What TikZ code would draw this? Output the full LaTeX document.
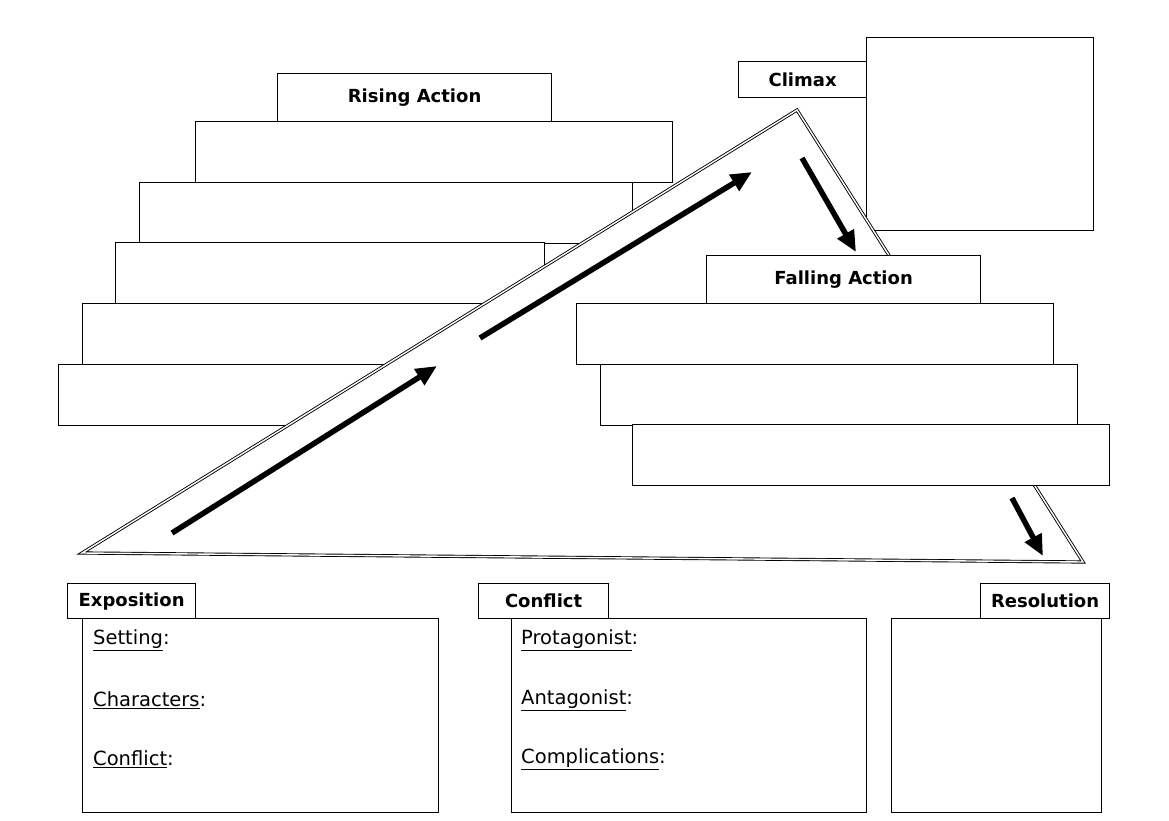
\documentclass[tikz,border=0pt]{standalone}
\usepackage{fontspec}
\setmainfont{DejaVu Sans}
\usetikzlibrary{positioning,arrows.meta}

\tikzset{
  panel/.style={draw, fill=white, line width=1.2pt, inner sep=0pt, anchor=north west},
  tab/.style={panel, font=\bfseries\fontsize{18}{21}\selectfont},
  prompt/.style={anchor=west, inner sep=0pt, font=\fontsize{19.5}{23}\selectfont},
  bigarrow/.style={line width=5.5pt, -{Triangle[length=21pt,width=18pt]}},
  plotline/.style={draw, fill=white, double, double distance=1.4pt, line width=0.9pt, line join=miter}
}

\begin{document}
\begin{tikzpicture}[x=1pt, y=-1pt]
\useasboundingbox (0,0) rectangle (1169,821);

% Rising action steps
\node[tab, minimum width=274pt, minimum height=48pt] (risetitle) at (277,73) {Rising Action};
\foreach \x/\y/\w [count=\i] in {195/121/477, 139/182/493, 115/242/429, 82/303/440, 58/364/362} {
  \node[panel, minimum width=\w pt, minimum height=61pt] (rise\i) at (\x,\y) {};
}

% Climax
\node[tab, minimum width=128pt, minimum height=36pt] (climax) at (738,61) {Climax};
\node[panel, minimum width=227pt, minimum height=193pt] (climaxbox) at (866,37) {};

% Plot line
\coordinate (start) at (82,553);
\coordinate (peak) at (797,110);
\coordinate (finish) at (1083,562);
\draw[plotline] (start) -- (peak) -- (finish) -- cycle;

% Arrows along the plot
\coordinate (a1s) at (172,533);
\coordinate (a1e) at (437,366);
\coordinate (a2s) at (480,338);
\coordinate (a2e) at (752,172);
\coordinate (a3s) at (802,158);
\coordinate (a3e) at (856,252);
\draw[bigarrow] (a1s) -- (a1e);
\draw[bigarrow] (a2s) -- (a2e);
\draw[bigarrow] (a3s) -- (a3e);

% Falling action steps
\node[tab, minimum width=274pt, minimum height=48pt] (falltitle) at (706,255) {Falling Action};
\foreach \x/\y [count=\i] in {576/303, 600/364, 632/424} {
  \node[panel, minimum width=477pt, minimum height=61pt] (fall\i) at (\x,\y) {};
}

\coordinate (a4s) at (1012,498);
\coordinate (a4e) at (1043,556);
\draw[bigarrow] (a4s) -- (a4e);

% Exposition
\node[panel, minimum width=356pt, minimum height=194pt] (expobody) at (82,618) {};
\node[tab, minimum width=128pt, minimum height=35pt] (expo) at (67,583) {Exposition};
\node[prompt] (setting) at (93,640) {\underline{Setting}:};
\node[prompt] (chars) at (93,700) {\underline{Characters}:};
\node[prompt] (confl) at (93,759) {\underline{Conflict}:};

% Conflict
\node[panel, minimum width=355pt, minimum height=194pt] (confbody) at (511,618) {};
\node[tab, minimum width=130pt, minimum height=35pt] (conf) at (478,583) {Conflict};
\node[prompt] (protag) at (521,640) {\underline{Protagonist}:};
\node[prompt] (antag) at (521,700) {\underline{Antagonist}:};
\node[prompt] (compl) at (521,759) {\underline{Complications}:};

% Resolution
\node[panel, minimum width=210pt, minimum height=194pt] (resolbody) at (891,618) {};
\node[tab, minimum width=129pt, minimum height=35pt] (resol) at (980,583) {Resolution};
\end{tikzpicture}
\end{document}
